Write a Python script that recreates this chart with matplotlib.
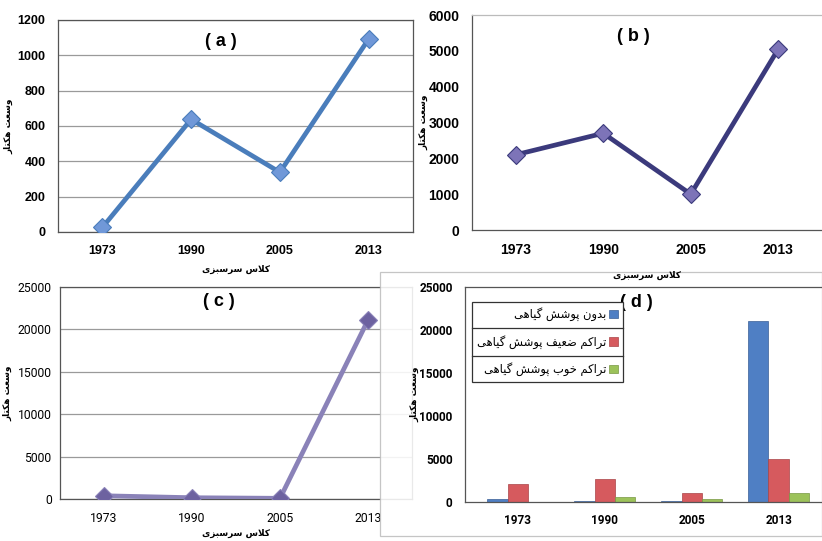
import numpy as np
import matplotlib
matplotlib.use('Agg')
import matplotlib.pyplot as plt
from matplotlib.patches import Rectangle

# data
years = ['1973', '1990', '2005', '2013']
good_cover = [26, 638, 338, 1092]        # panel (a), green bars in (d)
weak_cover = [2100, 2700, 1000, 5050]    # panel (b), red bars in (d)
no_cover = [380, 150, 80, 21100]         # panel (c), blue bars in (d)

xlab = 'کلاس سرسبزی'
ylab = 'وسعت هکتار'
legend_labels = ['بدون پوشش گیاهی', 'تراکم ضعیف پوشش گیاهی', 'تراکم خوب پوشش گیاهی']

# tiny Persian shaper: matplotlib has no complex text layout
FORMS = {
    '\u0627': ('\uFE8D', '\uFE8E', None, None),
    '\u0628': ('\uFE8F', '\uFE90', '\uFE91', '\uFE92'),
    '\u062A': ('\uFE95', '\uFE96', '\uFE97', '\uFE98'),
    '\u062E': ('\uFEA5', '\uFEA6', '\uFEA7', '\uFEA8'),
    '\u062F': ('\uFEA9', '\uFEAA', None, None),
    '\u0631': ('\uFEAD', '\uFEAE', None, None),
    '\u0632': ('\uFEAF', '\uFEB0', None, None),
    '\u0633': ('\uFEB1', '\uFEB2', '\uFEB3', '\uFEB4'),
    '\u0634': ('\uFEB5', '\uFEB6', '\uFEB7', '\uFEB8'),
    '\u0636': ('\uFEBD', '\uFEBE', '\uFEBF', '\uFEC0'),
    '\u0639': ('\uFEC9', '\uFECA', '\uFECB', '\uFECC'),
    '\u0641': ('\uFED1', '\uFED2', '\uFED3', '\uFED4'),
    '\u0644': ('\uFEDD', '\uFEDE', '\uFEDF', '\uFEE0'),
    '\u0645': ('\uFEE1', '\uFEE2', '\uFEE3', '\uFEE4'),
    '\u0646': ('\uFEE5', '\uFEE6', '\uFEE7', '\uFEE8'),
    '\u0647': ('\uFEE9', '\uFEEA', '\uFEEB', '\uFEEC'),
    '\u0648': ('\uFEED', '\uFEEE', None, None),
    '\u067E': ('\uFB56', '\uFB57', '\uFB58', '\uFB59'),
    '\u06A9': ('\uFB8E', '\uFB8F', '\uFB90', '\uFB91'),
    '\u06AF': ('\uFB92', '\uFB93', '\uFB94', '\uFB95'),
    '\u06CC': ('\uFBFC', '\uFBFD', '\uFBFE', '\uFBFF'),
}


def fa(text):
    s = text.replace('\u064A', '\u06CC').replace('\u0643', '\u06A9')
    out = []
    i = 0
    while i < len(s):
        c = s[i]
        if c not in FORMS:
            out.append(c)
            i += 1
            continue
        prev = s[i - 1] if i > 0 else None
        jp = prev in FORMS and FORMS[prev][2] is not None
        if c == '\u0644' and i + 1 < len(s) and s[i + 1] == '\u0627':
            out.append('\uFEFC' if jp else '\uFEFB')
            i += 2
            continue
        nxt = s[i + 1] if i + 1 < len(s) else None
        jn = FORMS[c][2] is not None and nxt in FORMS
        f = FORMS[c]
        out.append(f[3] if jp and jn else f[1] if jp else f[2] if jn else f[0])
        i += 1
    return ''.join(out)[::-1]


W, H = 822, 541
fig = plt.figure(figsize=(W / 100, H / 100), dpi=100)


def px_axes(l, t, r, b, z=0):
    return fig.add_axes([l / W, 1 - b / H, (r - l) / W, (b - t) / H], zorder=z)


fa_font = dict(family=['DejaVu Sans'], weight='bold', size=6.5)
tag_font = dict(family=['Liberation Sans', 'DejaVu Sans'], weight='bold', size=13)


def line_panel(ax, vals, ymax, step, lc, mc, tag, grid, tfont, ylpad):
    x = np.arange(len(years))
    ax.plot(x, vals, color=lc, lw=3.4, marker='D', ms=9, mfc=mc, mec=lc, mew=0.8,
            solid_capstyle='round', zorder=3)
    ax.set_xlim(-0.5, 3.5)
    ax.set_ylim(0, ymax)
    ax.set_xticks(x)
    ax.set_xticklabels(years, **tfont)
    yt = np.arange(0, ymax + 1, step)
    ax.set_yticks(yt)
    ax.set_yticklabels([str(v) for v in yt], **tfont)
    ax.tick_params(length=0, pad=9)
    if grid:
        ax.grid(axis='y', color='#9a9a9a', lw=0.9)
        ax.set_axisbelow(True)
    for s in ax.spines.values():
        s.set_color('#555555')
        s.set_linewidth(0.9)
    ax.set_xlabel(fa(xlab), labelpad=6, **fa_font)
    ax.set_ylabel(fa(ylab), labelpad=ylpad, **fa_font)
    ax.text(0.46, 0.9, tag, transform=ax.transAxes, ha='center', va='center', **tag_font)
    ax.set_facecolor('none')


ax_a = px_axes(58, 20, 413, 232)
line_panel(ax_a, good_cover, 1200, 200, '#4a7dbb', '#7098d8', '( a )', True,
           dict(family=['Liberation Sans', 'DejaVu Sans'], weight='bold', size=9), 3)

ax_b = px_axes(472, 15, 822, 230, z=3)
line_panel(ax_b, weak_cover, 6000, 1000, '#3b3a7c', '#7d74b8', '( b )', False,
           dict(family=['Liberation Sans', 'DejaVu Sans'], weight='bold', size=10), 0)
ax_b.spines['top'].set_color('#bbbbbb')
ax_b.spines['right'].set_visible(False)
ax_b.xaxis.labelpad = 10

ax_c = px_axes(60, 287, 412, 499)
line_panel(ax_c, no_cover, 25000, 5000, '#8a82b8', '#6d62a0', '( c )', True,
           dict(family=['Liberation Sans Narrow', 'Roboto', 'DejaVu Sans'], size=8.7), 3)
ax_c.tick_params(axis='y', pad=6)
ax_c.texts[0].set_position((0.45, 0.93))
ax_c.xaxis.labelpad = 3
ax_c.yaxis.set_label_coords(-0.135, 0.5)

# white card of panel (d) laid over the right edge of (c)
fig.patches.append(Rectangle((380 / W, 1 - 536 / H), 442 / W, 264 / H,
                             transform=fig.transFigure, facecolor='white', alpha=0.88,
                             edgecolor='#bdbdbd', lw=0.9, zorder=1))

ax_d = px_axes(465, 287, 822, 502, z=2)
xd = np.arange(len(years))
bw = 0.235
ax_d.bar(xd - bw, no_cover, bw, color='#4f7fc4', edgecolor='#3a5f95', lw=0.5,
         label=fa(legend_labels[0]))
ax_d.bar(xd, weak_cover, bw, color='#d65a5e', edgecolor='#a84447', lw=0.5,
         label=fa(legend_labels[1]))
ax_d.bar(xd + bw, good_cover, bw, color='#9cc25a', edgecolor='#779843', lw=0.5,
         label=fa(legend_labels[2]))
ax_d.set_xlim(-0.61, 3.5)
ax_d.set_ylim(0, 25000)
ax_d.set_xticks(xd)
dfont = dict(family=['Liberation Sans Narrow', 'Roboto', 'DejaVu Sans'], weight='bold', size=8.5)
ax_d.set_xticklabels(years, **dfont)
yt = np.arange(0, 25001, 5000)
ax_d.set_yticks(yt)
ax_d.set_yticklabels([str(v) for v in yt], **dfont)
ax_d.tick_params(length=0, pad=9)
for s in ax_d.spines.values():
    s.set_color('#555555')
    s.set_linewidth(0.9)
ax_d.spines['right'].set_visible(False)
ax_d.set_ylabel(fa(ylab), labelpad=0, **fa_font)
ax_d.set_facecolor('none')
ax_d.text(0.48, 0.93, '( d )', transform=ax_d.transAxes, ha='center', va='center', **tag_font)
leg = ax_d.legend(loc='upper left', bbox_to_anchor=(0.02, 0.93), borderaxespad=0,
                  markerfirst=False, fancybox=False, edgecolor='#333333', framealpha=1,
                  prop=dict(family=['DejaVu Sans'], size=8.3), handlelength=0.75,
                  handleheight=0.75, handletextpad=0.2, labelspacing=1.2, borderpad=0.45)
leg.get_frame().set_linewidth(0.9)

# divider lines between legend rows
fig.canvas.draw()
inv = fig.transFigure.inverted()
fb = leg.get_frame().get_window_extent()
tb = [t.get_window_extent() for t in leg.get_texts()]
for upper, lower in zip(tb[:-1], tb[1:]):
    ymid = (upper.y0 + lower.y1) / 2
    (x0, y0), (x1, _) = inv.transform([(fb.x0, ymid), (fb.x1, ymid)])
    fig.add_artist(plt.Line2D([x0, x1], [y0, y0], color='#333333', lw=0.9, zorder=5))

fig.savefig('out.png', dpi=100)
